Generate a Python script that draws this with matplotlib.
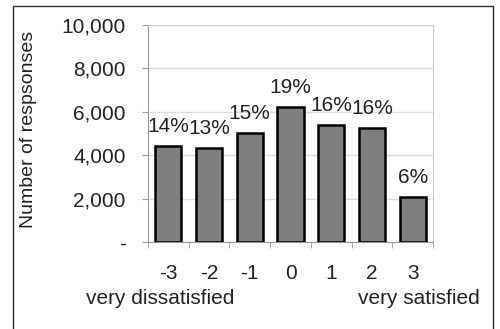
import numpy as np
import matplotlib
matplotlib.use("Agg")
from matplotlib import pyplot as plt
from matplotlib.patches import Rectangle

plt.rcParams['font.family'] = ['Liberation Sans', 'DejaVu Sans']

categories = ['-3', '-2', '-1', '0', '1', '2', '3']
responses = [4420, 4330, 5020, 6220, 5390, 5250, 2070]
shares = ['14%', '13%', '15%', '19%', '16%', '16%', '6%']
yticks = [0, 2000, 4000, 6000, 8000, 10000]
ytick_labels = ['-', '2,000', '4,000', '6,000', '8,000', '10,000']

W, H = 500, 329
fs = 15
tc = '#222222'
fig = plt.figure(figsize=(W/100, H/100), dpi=100)
fig.patch.set_facecolor('white')

# outer chart border
fig.patches.append(Rectangle((13/W, -0.05), 480/W, 1.05 - 6/H, transform=fig.transFigure,
                             fill=False, edgecolor='#303030', linewidth=1.0))

ax = fig.add_axes([148/W, 1 - 242/H, 285/W, 217/H])
x = np.arange(len(categories))
ax.bar(x, responses, width=0.64, color='#7f7f7f', edgecolor='black', linewidth=1.8, zorder=3)
for xi, v, s in zip(x, responses, shares):
    ax.text(xi, v + 450, s, ha='center', va='bottom', fontsize=fs, color=tc)

ax.set_xlim(-0.5, len(categories) - 0.5)
ax.set_ylim(0, 10000)
ax.set_yticks(yticks)
ax.set_yticklabels(ytick_labels, fontsize=fs, color=tc)
ax.set_xticks(x)
ax.set_xticklabels(categories, fontsize=fs, color=tc)
ax.set_xticks(np.arange(-0.5, len(categories)), minor=True)
ax.tick_params(axis='x', which='major', length=0, pad=16)
ax.tick_params(axis='x', which='minor', length=4, color='#999999', direction='out')
ax.tick_params(axis='y', length=4, color='#999999', direction='out', pad=12)
ax.grid(axis='y', color='#dddddd', linewidth=1.0, zorder=0)
for sp in ax.spines.values():
    sp.set_color('#cccccc')
ax.spines['left'].set_color('#999999')
ax.spines['bottom'].set_color('#999999')

ax.set_ylabel('Number of respsonses', fontsize=14, color=tc)
ax.yaxis.set_label_coords(-111/285, 0.52)

fig.text(160/W, 1 - 298/H, 'very dissatisfied', ha='center', va='center', fontsize=fs, color=tc)
fig.text(419/W, 1 - 298/H, 'very satisfied', ha='center', va='center', fontsize=fs, color=tc)

fig.savefig('out.png', dpi=100)
